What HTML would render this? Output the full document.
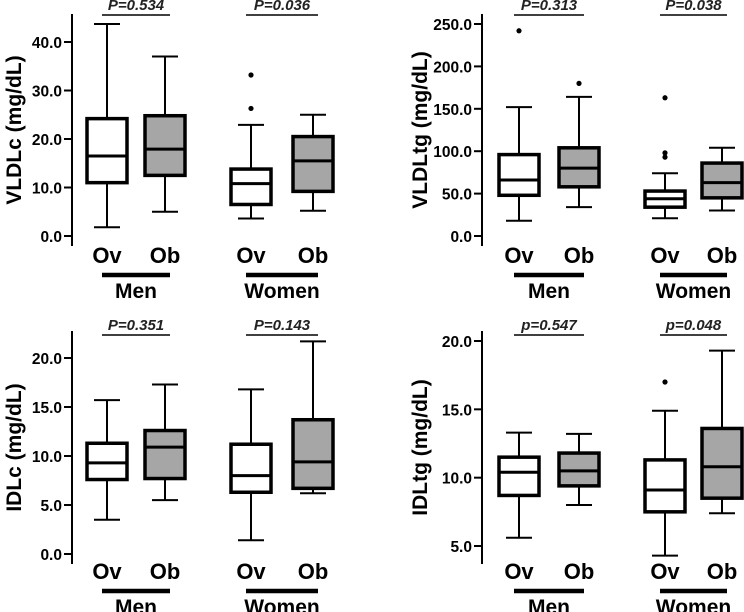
<!DOCTYPE html>
<html><head><meta charset="utf-8"><style>
html,body{margin:0;padding:0;background:#fff;}
svg{display:block;font-family:"Liberation Sans",Arial,sans-serif;}
</style></head><body>
<svg id="c" width="744" height="612" viewBox="0 0 744 612"></svg>
<script>
// Panel A: VLDLc
const vldlcStats = [ // [min, q1, median, q3, max]
  [1.8, 11.0, 16.5, 24.2, 43.7],
  [5.0, 12.5, 17.9, 24.8, 37.0],
  [3.6, 6.5, 10.8, 13.8, 22.9],
  [5.2, 9.2, 15.5, 20.5, 25.0]
];
const vldlcOutliers = [[], [], [26.3, 33.2], []];
const vldlcTicks = [0, 10, 20, 30, 40];
const vldlcP = ["P=0.534", "P=0.036"];
// Panel B: VLDLtg
const vldltgStats = [
  [18, 48, 66, 96, 152],
  [34, 58, 80, 104, 164],
  [21, 34, 44, 53, 74],
  [30, 45, 63, 86, 104]
];
const vldltgOutliers = [[242], [180], [93, 98, 163], []];
const vldltgTicks = [0, 50, 100, 150, 200, 250];
const vldltgP = ["P=0.313", "P=0.038"];
// Panel C: IDLc
const idlcStats = [
  [3.5, 7.6, 9.3, 11.3, 15.7],
  [5.5, 7.7, 10.9, 12.6, 17.3],
  [1.4, 6.3, 8.0, 11.2, 16.8],
  [6.2, 6.7, 9.4, 13.7, 21.7]
];
const idlcOutliers = [[], [], [], []];
const idlcTicks = [0, 5, 10, 15, 20];
const idlcP = ["P=0.351", "P=0.143"];
// Panel D: IDLtg
const idltgStats = [
  [5.6, 8.7, 10.4, 11.5, 13.3],
  [8.0, 9.4, 10.5, 11.8, 13.2],
  [4.3, 7.5, 9.1, 11.3, 14.9],
  [7.4, 8.5, 10.8, 13.6, 19.3]
];
const idltgOutliers = [[], [], [17.0], []];
const idltgTicks = [5, 10, 15, 20];
const idltgP = ["p=0.547", "p=0.048"];
const groups = ["Ov", "Ob", "Ov", "Ob"];
const sexes = ["Men", "Women"];

const NS = "http://www.w3.org/2000/svg";
const svg = document.getElementById('c');
function mk(tag, attrs, parent, txt) {
  const e = document.createElementNS(NS, tag);
  for (const k in attrs) e.setAttribute(k, attrs[k]);
  if (txt !== undefined) e.textContent = txt;
  (parent || svg).appendChild(e);
  return e;
}

function panel(cfg) {
  const g = mk('g', {});
  
  
  const y = v => cfg.y0 + (v - cfg.v0) * (cfg.y1 - cfg.y0) / (cfg.v1 - cfg.v0);
  const ax = cfg.axisX;
  const axis = mk('line', {x1: ax, x2: ax, y1: cfg.axTop, y2: cfg.axBot, stroke: '#000', 'stroke-width': 2}, g);
  
  
  cfg.ticks.forEach(t => {
    const tk = mk('line', {x1: ax - 8, x2: ax, y1: y(t), y2: y(t), stroke: '#000', 'stroke-width': 2}, g);
    
    
    const tl = mk('text', {x: ax - 10, y: y(t) + 6, 'text-anchor': 'end', 'font-size': 15.5, 'font-weight': 'bold'}, g, t.toFixed(1));
    
    
  });
  const yl = mk('text', {x: 0, y: 0, transform: `translate(${cfg.labelX},${(cfg.axTop + cfg.axBot) / 2}) rotate(-90)`, 'text-anchor': 'middle', 'font-size': 21, 'font-weight': 'bold'}, g, cfg.ylabel);
  
  
  cfg.stats.forEach((s, i) => {
    const cx = cfg.centers[i], w = 40, cw = 26;
    const bg = mk('g', {}, g);
    
    
    mk('line', {x1: cx, x2: cx, y1: y(s[0]), y2: y(s[4]), stroke: '#000', 'stroke-width': 2}, bg);
    mk('line', {x1: cx - cw / 2, x2: cx + cw / 2, y1: y(s[0]), y2: y(s[0]), stroke: '#000', 'stroke-width': 2}, bg);
    mk('line', {x1: cx - cw / 2, x2: cx + cw / 2, y1: y(s[4]), y2: y(s[4]), stroke: '#000', 'stroke-width': 2}, bg);
    mk('rect', {x: cx - w / 2, y: y(s[3]), width: w, height: y(s[1]) - y(s[3]), fill: i % 2 ? '#a6a6a6' : '#fff', stroke: '#000', 'stroke-width': 3.5}, bg);
    mk('line', {x1: cx - w / 2, x2: cx + w / 2, y1: y(s[2]), y2: y(s[2]), stroke: '#000', 'stroke-width': 3}, bg);
    cfg.outliers[i].forEach(o => {
      const d = mk('circle', {cx: cx, cy: y(o), r: 2.6, fill: '#000'}, bg);
      
      
    });
    const gl = mk('text', {x: cx, y: cfg.labY, 'text-anchor': 'middle', 'font-size': 22, 'font-weight': 'bold'}, g, groups[i]);
    
    
  });
  for (let k = 0; k < 2; k++) {
    const a = cfg.centers[2 * k] - 5, b = cfg.centers[2 * k + 1] + 5;
    const mid = (a + b) / 2;
    const bar = mk('line', {x1: a, x2: b, y1: cfg.labY + 12, y2: cfg.labY + 12, stroke: '#000', 'stroke-width': 4.5}, g);
    
    
    const sl = mk('text', {x: mid, y: cfg.labY + 35, 'text-anchor': 'middle', 'font-size': 21, 'font-weight': 'bold'}, g, sexes[k]);
    
    
    const pl = mk('line', {x1: a, x2: b, y1: cfg.pY, y2: cfg.pY, stroke: '#000', 'stroke-width': 1.5}, g);
    
    
    const pt = mk('text', {x: mid, y: cfg.pY - 5, 'text-anchor': 'middle', 'font-size': 15, 'font-style': 'italic', 'font-weight': 'bold', fill: '#222'}, g, cfg.p[k]);
    
    
  }
}

panel({name: 'vldlc-panel', ylabel: 'VLDLc (mg/dL)', stats: vldlcStats, outliers: vldlcOutliers, ticks: vldlcTicks, p: vldlcP,
  v0: 0, v1: 40, y0: 236, y1: 42, axisX: 72, axTop: 14, axBot: 246, labelX: 21, centers: [107, 165, 251, 313], labY: 263, pY: 15});
panel({name: 'vldltg-panel', ylabel: 'VLDLtg (mg/dL)', stats: vldltgStats, outliers: vldltgOutliers, ticks: vldltgTicks, p: vldltgP,
  v0: 0, v1: 250, y0: 236, y1: 24, axisX: 482, axTop: 14, axBot: 246, labelX: 427, centers: [519, 579, 665, 722], labY: 263, pY: 15});
panel({name: 'idlc-panel', ylabel: 'IDLc (mg/dL)', stats: idlcStats, outliers: idlcOutliers, ticks: idlcTicks, p: idlcP,
  v0: 0, v1: 20, y0: 554, y1: 358, axisX: 72, axTop: 331, axBot: 564, labelX: 21, centers: [107, 165, 251, 313], labY: 579, pY: 335});
panel({name: 'idltg-panel', ylabel: 'IDLtg (mg/dL)', stats: idltgStats, outliers: idltgOutliers, ticks: idltgTicks, p: idltgP,
  v0: 5, v1: 20, y0: 546, y1: 341, axisX: 482, axTop: 331, axBot: 564, labelX: 427, centers: [519, 579, 665, 722], labY: 579, pY: 335});
</script>
</body></html>
